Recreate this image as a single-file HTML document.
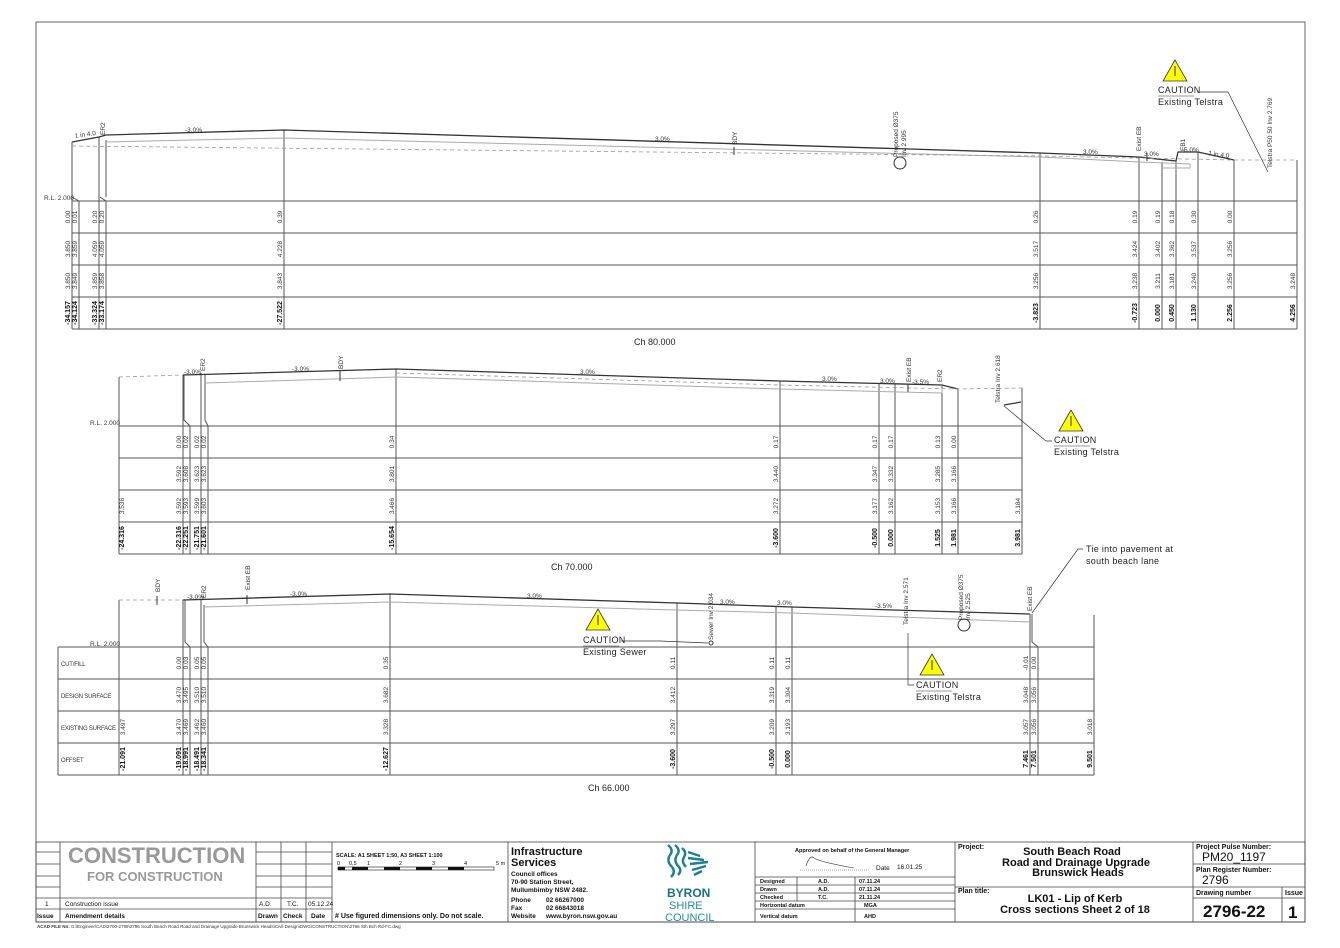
<!DOCTYPE html>
<html><head><meta charset="utf-8"><style>
html,body{margin:0;padding:0;background:#fff;}
svg{display:block;font-family:"Liberation Sans",sans-serif;}
.v{font-size:6.5px;fill:#333;text-anchor:middle;}
.b{font-size:7px;font-weight:bold;fill:#111;text-anchor:middle;}
.s{font-size:6.5px;fill:#333;}
.rl{font-size:6px;fill:#333;letter-spacing:-0.2px;}
.c{font-size:9px;fill:#222;letter-spacing:.3px;}
.t{font-size:6.5px;fill:#111;}
.tb{font-size:6.5px;fill:#111;font-weight:bold;}
</style></head><body>
<svg width="1340" height="948" viewBox="0 0 1340 948" xmlns="http://www.w3.org/2000/svg">
<rect x="36" y="22" width="1269" height="900" fill="none" stroke="#666" stroke-width="1"/>

<!-- ============ SECTION 1 Ch 80 ============ -->
<g stroke="#555" stroke-width="1" fill="none">
<line x1="72" y1="201" x2="1297" y2="201"/><line x1="72" y1="233" x2="1297" y2="233"/>
<line x1="72" y1="265" x2="1297" y2="265"/><line x1="72" y1="297" x2="1297" y2="297"/>
<line x1="72" y1="329" x2="1297" y2="329"/>
<polyline points="72,329 72,142"/>
<polyline points="72,197 79,201 79,329"/>
<polyline points="99,329 99,137"/>
<polyline points="100,197 106,201 106,329"/>
<line x1="106" y1="140" x2="106" y2="197"/>
<line x1="284" y1="130" x2="284" y2="329"/>
<line x1="1040" y1="153" x2="1040" y2="329"/>
<line x1="1139" y1="157" x2="1139" y2="329"/>
<line x1="1162" y1="162" x2="1162" y2="329"/>
<line x1="1176" y1="162" x2="1176" y2="329"/>
<line x1="1198" y1="152" x2="1198" y2="329"/>
<line x1="1234" y1="160" x2="1234" y2="329"/>
<line x1="1297" y1="160" x2="1297" y2="329"/>
</g>
<polyline points="72,142 99,137 106,135 284,130 1040,153 1139,157 1176,161 1178,152 1198,152 1234,160" fill="none" stroke="#333" stroke-width="1.3"/>
<polyline points="106,142 284,138 1040,157 1139,162 1190,164 1190,168 1162,168" fill="none" stroke="#aaa" stroke-width="1"/>
<polyline points="72,146 1040,156 1234,160 1297,160" fill="none" stroke="#999" stroke-width="0.8" stroke-dasharray="4,3"/>
<line x1="734" y1="147" x2="734" y2="155" stroke="#333"/>
<line x1="1147" y1="153" x2="1147" y2="161" stroke="#333"/>
<circle cx="900" cy="163" r="6" fill="none" stroke="#333"/>
<text class="s" x="75" y="138" transform="rotate(-8 75 138)">1 in 4.0</text>
<text class="s" x="185" y="132">-3.0%</text>
<text class="s" x="655" y="141">3.0%</text>
<text class="s" x="1083" y="154">3.0%</text>
<text class="s" x="1144" y="156">3.0%</text>
<text class="s" x="1184" y="152">5.0%</text>
<text class="s" x="1208" y="155" transform="rotate(8 1208 155)">1 in 4.0</text>
<text class="s" transform="translate(105,135) rotate(-90)">ER2</text>
<text class="s" transform="translate(737,145) rotate(-90)">BDY</text>
<text class="s" transform="translate(898,157) rotate(-90)">Proposed Ø375</text>
<text class="s" transform="translate(906,157) rotate(-90)">Inv 2.995</text>
<text class="s" transform="translate(1141,151) rotate(-90)">Exist EB</text>
<text class="s" transform="translate(1185,151) rotate(-90)">EB1</text>
<text class="s" transform="translate(1272,168) rotate(-90)">Telstra P50 50 Inv 2.769</text>
<text class="s" x="44" y="200">R.L. 2.000</text>
<g class="v">
<text transform="translate(70,217) rotate(-90)">0.00</text><text transform="translate(77,217) rotate(-90)">0.01</text>
<text transform="translate(97,217) rotate(-90)">0.20</text><text transform="translate(104,217) rotate(-90)">0.20</text>
<text transform="translate(282,217) rotate(-90)">0.39</text><text transform="translate(1038,217) rotate(-90)">0.26</text>
<text transform="translate(1137,217) rotate(-90)">0.19</text><text transform="translate(1160,217) rotate(-90)">0.19</text>
<text transform="translate(1174,217) rotate(-90)">0.18</text><text transform="translate(1196,217) rotate(-90)">0.30</text>
<text transform="translate(1232,217) rotate(-90)">0.00</text>
<text transform="translate(70,249) rotate(-90)">3.850</text><text transform="translate(77,249) rotate(-90)">3.859</text>
<text transform="translate(97,249) rotate(-90)">4.059</text><text transform="translate(104,249) rotate(-90)">4.059</text>
<text transform="translate(282,249) rotate(-90)">4.228</text><text transform="translate(1038,249) rotate(-90)">3.517</text>
<text transform="translate(1137,249) rotate(-90)">3.424</text><text transform="translate(1160,249) rotate(-90)">3.402</text>
<text transform="translate(1174,249) rotate(-90)">3.362</text><text transform="translate(1196,249) rotate(-90)">3.537</text>
<text transform="translate(1232,249) rotate(-90)">3.256</text>
<text transform="translate(70,281) rotate(-90)">3.850</text><text transform="translate(77,281) rotate(-90)">3.849</text>
<text transform="translate(97,281) rotate(-90)">3.859</text><text transform="translate(104,281) rotate(-90)">3.858</text>
<text transform="translate(282,281) rotate(-90)">3.843</text><text transform="translate(1038,281) rotate(-90)">3.256</text>
<text transform="translate(1137,281) rotate(-90)">3.238</text><text transform="translate(1160,281) rotate(-90)">3.211</text>
<text transform="translate(1174,281) rotate(-90)">3.181</text><text transform="translate(1196,281) rotate(-90)">3.240</text>
<text transform="translate(1232,281) rotate(-90)">3.256</text><text transform="translate(1295,281) rotate(-90)">3.248</text>
</g>
<g class="b">
<text transform="translate(70,313) rotate(-90)">-34.157</text><text transform="translate(77,313) rotate(-90)">-34.124</text>
<text transform="translate(97,313) rotate(-90)">-33.324</text><text transform="translate(104,313) rotate(-90)">-33.174</text>
<text transform="translate(282,313) rotate(-90)">-27.522</text><text transform="translate(1038,313) rotate(-90)">-3.823</text>
<text transform="translate(1137,313) rotate(-90)">-0.723</text><text transform="translate(1160,313) rotate(-90)">0.000</text>
<text transform="translate(1174,313) rotate(-90)">0.450</text><text transform="translate(1196,313) rotate(-90)">1.130</text>
<text transform="translate(1232,313) rotate(-90)">2.256</text><text transform="translate(1295,313) rotate(-90)">4.256</text>
</g>
<text x="634" y="345" style="font-size:9px;fill:#222">Ch 80.000</text>
<polygon points="1175,60 1163,81 1187,81" fill="#ff0" stroke="#333" stroke-width="0.8"/>
<line x1="1175" y1="66" x2="1175" y2="76" stroke="#333" stroke-width="1"/>
<text class="c" x="1158" y="93">CAUTION</text><line x1="1158" y1="96" x2="1194" y2="96" stroke="#333" stroke-width="0.6"/>
<text class="c" x="1158" y="105">Existing Telstra</text>
<polyline points="1197,92 1228,92 1268,172" fill="none" stroke="#333" stroke-width="0.7"/>

<!-- ============ SECTION 2 Ch 70 ============ -->
<g stroke="#555" stroke-width="1" fill="none">
<line x1="119" y1="426" x2="1022" y2="426"/><line x1="119" y1="458" x2="1022" y2="458"/>
<line x1="119" y1="490" x2="1022" y2="490"/><line x1="119" y1="522" x2="1022" y2="522"/>
<line x1="119" y1="554" x2="1022" y2="554"/>
<line x1="119" y1="377" x2="119" y2="554"/>
<line x1="183" y1="375" x2="183" y2="554"/>
<polyline points="184,375 184,420 190,426 190,554"/>
<line x1="201" y1="373" x2="201" y2="554"/>
<polyline points="205,374 205,420 208,426 208,554"/>
<line x1="396" y1="369" x2="396" y2="554"/>
<line x1="780" y1="381" x2="780" y2="554"/>
<line x1="879" y1="383" x2="879" y2="554"/>
<line x1="895" y1="384" x2="895" y2="554"/>
<line x1="942" y1="386" x2="942" y2="554"/>
<line x1="958" y1="389" x2="958" y2="554"/>
<line x1="1022" y1="388" x2="1022" y2="554"/>
</g>
<polyline points="183,375 396,369 780,381 942,385 958,389" fill="none" stroke="#333" stroke-width="1.3"/>
<polyline points="205,383 396,377 780,389 942,393 942,388" fill="none" stroke="#aaa" stroke-width="1"/>
<polyline points="119,377 183,375" fill="none" stroke="#999" stroke-width="0.8" stroke-dasharray="4,3"/>
<polyline points="396,373 780,385 958,389 1022,388" fill="none" stroke="#999" stroke-width="0.8" stroke-dasharray="4,3"/>
<line x1="340" y1="371" x2="340" y2="381" stroke="#333"/>
<line x1="908" y1="384" x2="908" y2="392" stroke="#333"/>
<line x1="1004" y1="405" x2="1021" y2="402" stroke="#333" stroke-width="1.2"/>
<text class="s" x="184" y="374">-3.0%</text>
<text class="s" x="292" y="371">-3.0%</text>
<text class="s" x="580" y="374">3.0%</text>
<text class="s" x="822" y="381">3.0%</text>
<text class="s" x="880" y="383">3.0%</text>
<text class="s" x="912" y="384">-3.5%</text>
<text class="s" transform="translate(205,371) rotate(-90)">ER2</text>
<text class="s" transform="translate(343,369) rotate(-90)">BDY</text>
<text class="s" transform="translate(911,382) rotate(-90)">Exist EB</text>
<text class="s" transform="translate(942,382) rotate(-90)">ER2</text>
<text class="s" transform="translate(1000,403) rotate(-90)">Telstra Inv 2.618</text>
<text class="s" x="90" y="425">R.L. 2.000</text>
<g class="v">
<text transform="translate(181,442) rotate(-90)">0.00</text><text transform="translate(188,442) rotate(-90)">0.02</text>
<text transform="translate(199,442) rotate(-90)">0.02</text><text transform="translate(206,442) rotate(-90)">0.02</text>
<text transform="translate(394,442) rotate(-90)">0.34</text><text transform="translate(778,442) rotate(-90)">0.17</text>
<text transform="translate(877,442) rotate(-90)">0.17</text><text transform="translate(893,442) rotate(-90)">0.17</text>
<text transform="translate(940,442) rotate(-90)">0.13</text><text transform="translate(956,442) rotate(-90)">0.00</text>
<text transform="translate(181,474) rotate(-90)">3.592</text><text transform="translate(188,474) rotate(-90)">3.608</text>
<text transform="translate(199,474) rotate(-90)">3.623</text><text transform="translate(206,474) rotate(-90)">3.623</text>
<text transform="translate(394,474) rotate(-90)">3.801</text><text transform="translate(778,474) rotate(-90)">3.440</text>
<text transform="translate(877,474) rotate(-90)">3.347</text><text transform="translate(893,474) rotate(-90)">3.332</text>
<text transform="translate(940,474) rotate(-90)">3.285</text><text transform="translate(956,474) rotate(-90)">3.166</text>
<text transform="translate(124,506) rotate(-90)">3.536</text>
<text transform="translate(181,506) rotate(-90)">3.592</text><text transform="translate(188,506) rotate(-90)">3.593</text>
<text transform="translate(199,506) rotate(-90)">3.599</text><text transform="translate(206,506) rotate(-90)">3.603</text>
<text transform="translate(394,506) rotate(-90)">3.466</text><text transform="translate(778,506) rotate(-90)">3.272</text>
<text transform="translate(877,506) rotate(-90)">3.177</text><text transform="translate(893,506) rotate(-90)">3.162</text>
<text transform="translate(940,506) rotate(-90)">3.153</text><text transform="translate(956,506) rotate(-90)">3.166</text>
<text transform="translate(1020,506) rotate(-90)">3.184</text>
</g>
<g class="b">
<text transform="translate(124,538) rotate(-90)">-24.316</text>
<text transform="translate(181,538) rotate(-90)">-22.316</text><text transform="translate(188,538) rotate(-90)">-22.251</text>
<text transform="translate(199,538) rotate(-90)">-21.751</text><text transform="translate(206,538) rotate(-90)">-21.601</text>
<text transform="translate(394,538) rotate(-90)">-15.654</text><text transform="translate(778,538) rotate(-90)">-3.600</text>
<text transform="translate(877,538) rotate(-90)">-0.500</text><text transform="translate(893,538) rotate(-90)">0.000</text>
<text transform="translate(940,538) rotate(-90)">1.525</text><text transform="translate(956,538) rotate(-90)">1.981</text>
<text transform="translate(1020,538) rotate(-90)">3.981</text>
</g>
<text x="551" y="570" style="font-size:9px;fill:#222">Ch 70.000</text>
<polygon points="1071,410 1059,431 1083,431" fill="#ff0" stroke="#333" stroke-width="0.8"/>
<line x1="1071" y1="416" x2="1071" y2="426" stroke="#333"/>
<text class="c" x="1054" y="443">CAUTION</text><line x1="1054" y1="446" x2="1090" y2="446" stroke="#333" stroke-width="0.6"/>
<text class="c" x="1054" y="455">Existing Telstra</text>
<polyline points="1052,441 1046,441 1004,406" fill="none" stroke="#333" stroke-width="0.7"/>

<!-- ============ SECTION 3 Ch 66 ============ -->
<g stroke="#555" stroke-width="1" fill="none">
<line x1="58" y1="647" x2="1094" y2="647"/><line x1="58" y1="679" x2="1094" y2="679"/>
<line x1="58" y1="711" x2="1094" y2="711"/><line x1="58" y1="743" x2="1094" y2="743"/>
<line x1="58" y1="775" x2="1094" y2="775"/>
<line x1="58" y1="647" x2="58" y2="775"/>
<line x1="119" y1="600" x2="119" y2="775"/>
<line x1="183" y1="600" x2="183" y2="775"/>
<polyline points="185,600 185,642 190,647 190,775"/>
<line x1="201" y1="599" x2="201" y2="775"/>
<polyline points="204,605 204,642 208,647 208,775"/>
<line x1="390" y1="594" x2="390" y2="775"/>
<line x1="677" y1="603" x2="677" y2="775"/>
<line x1="776" y1="606" x2="776" y2="775"/>
<line x1="792" y1="607" x2="792" y2="775"/>
<polyline points="1030,614 1030,647 1030,775"/>
<polyline points="1032,614 1032,642 1038,647 1038,775"/>
<line x1="1094" y1="615" x2="1094" y2="775"/>
</g>
<polyline points="183,600 390,594 677,603 792,607 1030,614" fill="none" stroke="#333" stroke-width="1.3"/>
<polyline points="204,607 390,602 677,610 792,613 1030,622" fill="none" stroke="#aaa" stroke-width="1"/>
<polyline points="119,600 183,600 M204,601 390,596 677,605 1030,614 1094,615" fill="none" stroke="#999" stroke-width="0.8" stroke-dasharray="4,3"/>
<line x1="157" y1="596" x2="157" y2="605" stroke="#333"/>
<line x1="247" y1="595" x2="247" y2="604" stroke="#333"/>
<circle cx="964" cy="625" r="6" fill="none" stroke="#333"/>
<circle cx="711" cy="643" r="2" fill="none" stroke="#333"/>
<text class="s" x="187" y="599">-3.0%</text>
<text class="s" x="290" y="596">-3.0%</text>
<text class="s" x="527" y="598">3.0%</text>
<text class="s" x="720" y="604">3.0%</text>
<text class="s" x="777" y="605">3.0%</text>
<text class="s" x="875" y="608">-3.5%</text>
<text class="s" transform="translate(160,592) rotate(-90)">BDY</text>
<text class="s" transform="translate(206,598) rotate(-90)">ER2</text>
<text class="s" transform="translate(250,590) rotate(-90)">Exist EB</text>
<text class="s" transform="translate(713,640) rotate(-90)">Sewer Inv 2.034</text>
<text class="s" transform="translate(908,625) rotate(-90)">Telstra Inv 2.571</text>
<text class="s" transform="translate(963,620) rotate(-90)">Proposed Ø375</text>
<text class="s" transform="translate(970,620) rotate(-90)">Inv 2.525</text>
<text class="s" transform="translate(1032,611) rotate(-90)">Exist EB</text>
<text class="s" x="90" y="646">R.L. 2.000</text>
<text class="rl" x="61" y="666">CUT/FILL</text>
<text class="rl" x="61" y="698">DESIGN SURFACE</text>
<text class="rl" x="61" y="730">EXISTING SURFACE</text>
<text class="rl" x="61" y="762">OFFSET</text>
<g class="v">
<text transform="translate(181,663) rotate(-90)">0.00</text><text transform="translate(188,663) rotate(-90)">0.03</text>
<text transform="translate(199,663) rotate(-90)">0.05</text><text transform="translate(206,663) rotate(-90)">0.05</text>
<text transform="translate(388,663) rotate(-90)">0.35</text><text transform="translate(675,663) rotate(-90)">0.11</text>
<text transform="translate(774,663) rotate(-90)">0.11</text><text transform="translate(790,663) rotate(-90)">0.11</text>
<text transform="translate(1028,663) rotate(-90)">-0.01</text><text transform="translate(1036,663) rotate(-90)">0.00</text>
<text transform="translate(181,695) rotate(-90)">3.470</text><text transform="translate(188,695) rotate(-90)">3.495</text>
<text transform="translate(199,695) rotate(-90)">3.510</text><text transform="translate(206,695) rotate(-90)">3.510</text>
<text transform="translate(388,695) rotate(-90)">3.682</text><text transform="translate(675,695) rotate(-90)">3.412</text>
<text transform="translate(774,695) rotate(-90)">3.319</text><text transform="translate(790,695) rotate(-90)">3.304</text>
<text transform="translate(1028,695) rotate(-90)">3.048</text><text transform="translate(1036,695) rotate(-90)">3.056</text>
<text transform="translate(125,727) rotate(-90)">3.497</text>
<text transform="translate(181,727) rotate(-90)">3.470</text><text transform="translate(188,727) rotate(-90)">3.469</text>
<text transform="translate(199,727) rotate(-90)">3.462</text><text transform="translate(206,727) rotate(-90)">3.460</text>
<text transform="translate(388,727) rotate(-90)">3.328</text><text transform="translate(675,727) rotate(-90)">3.297</text>
<text transform="translate(774,727) rotate(-90)">3.209</text><text transform="translate(790,727) rotate(-90)">3.193</text>
<text transform="translate(1028,727) rotate(-90)">3.057</text><text transform="translate(1036,727) rotate(-90)">3.056</text>
<text transform="translate(1092,727) rotate(-90)">3.018</text>
</g>
<g class="b">
<text transform="translate(125,759) rotate(-90)">-21.091</text>
<text transform="translate(181,759) rotate(-90)">-19.091</text><text transform="translate(188,759) rotate(-90)">-18.991</text>
<text transform="translate(199,759) rotate(-90)">-18.491</text><text transform="translate(206,759) rotate(-90)">-18.341</text>
<text transform="translate(388,759) rotate(-90)">-12.627</text><text transform="translate(675,759) rotate(-90)">-3.600</text>
<text transform="translate(774,759) rotate(-90)">-0.500</text><text transform="translate(790,759) rotate(-90)">0.000</text>
<text transform="translate(1028,759) rotate(-90)">7.461</text><text transform="translate(1036,759) rotate(-90)">7.501</text>
<text transform="translate(1092,759) rotate(-90)">9.501</text>
</g>
<text x="588" y="791" style="font-size:9px;fill:#222">Ch 66.000</text>
<polygon points="598,609 586,630 610,630" fill="#ff0" stroke="#333" stroke-width="0.8"/>
<line x1="598" y1="615" x2="598" y2="625" stroke="#333"/>
<text class="c" x="583" y="643">CAUTION</text><line x1="583" y1="646" x2="619" y2="646" stroke="#333" stroke-width="0.6"/>
<text class="c" x="583" y="655">Existing Sewer</text>
<polyline points="621,641 660,641 708,643" fill="none" stroke="#333" stroke-width="0.7"/>
<polygon points="932,654 920,675 944,675" fill="#ff0" stroke="#333" stroke-width="0.8"/>
<line x1="932" y1="660" x2="932" y2="670" stroke="#333"/>
<text class="c" x="916" y="688">CAUTION</text><line x1="916" y1="691" x2="952" y2="691" stroke="#333" stroke-width="0.6"/>
<text class="c" x="916" y="700">Existing Telstra</text>
<polyline points="914,685 908,685 908,633" fill="none" stroke="#333" stroke-width="0.7"/>
<text class="c" x="1086" y="552">Tie into pavement at</text>
<text class="c" x="1086" y="564">south beach lane</text>
<polyline points="1083,549 1078,549 1032,613" fill="none" stroke="#333" stroke-width="0.7"/>

<!-- ============ TITLE BLOCK ============ -->
<g stroke="#444" stroke-width="0.8" fill="none">
<rect x="36" y="842" width="1269" height="80"/>
<line x1="36" y1="852" x2="60" y2="852"/><line x1="36" y1="864" x2="60" y2="864"/>
<line x1="36" y1="876" x2="60" y2="876"/><line x1="36" y1="887" x2="60" y2="887"/>
<line x1="36" y1="898" x2="332" y2="898"/><line x1="36" y1="909" x2="332" y2="909"/>
<line x1="60" y1="842" x2="60" y2="922"/>
<line x1="256" y1="852" x2="332" y2="852"/><line x1="256" y1="864" x2="332" y2="864"/>
<line x1="256" y1="876" x2="332" y2="876"/><line x1="256" y1="887" x2="332" y2="887"/>
<line x1="256" y1="842" x2="256" y2="922"/><line x1="281" y1="842" x2="281" y2="922"/>
<line x1="306" y1="842" x2="306" y2="922"/><line x1="332" y1="842" x2="332" y2="922"/>
<line x1="508" y1="842" x2="508" y2="922"/>
<line x1="755" y1="842" x2="755" y2="922"/>
<line x1="755" y1="877" x2="955" y2="877"/><line x1="755" y1="885" x2="955" y2="885"/>
<line x1="755" y1="893" x2="955" y2="893"/><line x1="755" y1="901" x2="955" y2="901"/>
<line x1="755" y1="909" x2="955" y2="909"/>
<line x1="797" y1="877" x2="797" y2="901"/><line x1="855" y1="877" x2="855" y2="922"/>
<line x1="955" y1="842" x2="955" y2="922"/>
<line x1="955" y1="887" x2="1193" y2="887"/>
<line x1="1193" y1="842" x2="1193" y2="922"/>
<line x1="1193" y1="864" x2="1305" y2="864"/><line x1="1193" y1="887" x2="1305" y2="887"/>
<line x1="1193" y1="898" x2="1305" y2="898"/>
<line x1="1282" y1="887" x2="1282" y2="922"/>
</g>
<text x="68" y="863" style="font-size:22px;font-weight:bold;fill:#999">CONSTRUCTION</text>
<text x="87" y="881" style="font-size:13px;font-weight:bold;fill:#999">FOR CONSTRUCTION</text>
<text class="t" x="45" y="906">1</text>
<text class="t" x="65" y="906">Construction issue</text>
<text class="t" x="259" y="906">A.D.</text><text class="t" x="287" y="906">T.C.</text><text class="t" x="308" y="906">05.12.24</text>
<text class="tb" x="37" y="918">Issue</text><text class="tb" x="65" y="918">Amendment details</text>
<text class="tb" x="258" y="918">Drawn</text><text class="tb" x="283" y="918">Check</text><text class="tb" x="311" y="918">Date</text>
<text class="tb" x="335" y="918" style="font-size:7px">#  Use figured dimensions only. Do not scale.</text>
<text class="tb" x="336" y="857" style="font-size:5.5px">SCALE: A1 SHEET 1:50, A3 SHEET 1:100</text>
<g style="font-size:5.5px;fill:#111"><text x="337" y="865">0</text><text x="349" y="865">0.5</text><text x="367" y="865">1</text><text x="399" y="865">2</text><text x="432" y="865">3</text><text x="464" y="865">4</text><text x="496" y="865">5 m</text></g>
<rect x="338" y="867" width="156" height="3" fill="#fff" stroke="#111" stroke-width="0.6"/>
<g fill="#111"><rect x="338" y="867" width="7" height="3"/><rect x="352" y="867" width="16" height="3"/><rect x="384" y="867" width="16" height="3"/><rect x="416" y="867" width="16" height="3"/><rect x="448" y="867" width="16" height="3"/></g>
<text x="511" y="855" style="font-size:11px;font-weight:bold;fill:#111">Infrastructure</text>
<text x="511" y="866" style="font-size:11px;font-weight:bold;fill:#111">Services</text>
<text class="tb" x="511" y="876">Council offices</text>
<text class="tb" x="511" y="884">70-90 Station Street,</text>
<text class="tb" x="511" y="892">Mullumbimby  NSW 2482.</text>
<text class="tb" x="511" y="902">Phone</text><text class="tb" x="546" y="902">02 66267000</text>
<text class="tb" x="511" y="910">Fax</text><text class="tb" x="546" y="910">02 66843018</text>
<text class="tb" x="511" y="918">Website</text><text class="tb" x="546" y="918">www.byron.nsw.gov.au</text>
<g fill="none" stroke="#1f7f8c" stroke-width="2.4">
<path d="M668,845 q6,5 2,10 q-4,6 2,12 q4,5 -1,10"/>
<path d="M675,845 q6,5 2,10 q-4,6 2,12 q3,4 -1,8"/>
<path d="M682,848 q5,4 2,9 q-3,5 2,10"/>
<path d="M688,852 l12,4 M688,858 l16,2 M690,864 l18,-2 M692,870 l14,-4 M694,875 l8,-4"/>
</g>
<text x="667" y="897" style="font-size:12px;font-weight:bold;fill:#1a6f80">BYRON</text>
<text x="669" y="909" style="font-size:11px;fill:#2a8a98">SHIRE</text>
<text x="665" y="921" style="font-size:11px;fill:#2a8a98">COUNCIL</text>
<text class="tb" x="795" y="852" style="font-size:5.5px">Approved on behalf of the General Manager</text>
<path d="M806,866 q4,-12 8,-8 q6,4 40,10" fill="none" stroke="#333" stroke-width="0.6"/>
<line x1="800" y1="870" x2="870" y2="870" stroke="#555" stroke-width="0.5" stroke-dasharray="1,1"/>
<text class="t" x="876" y="870">Date</text><text class="t" x="897" y="869">16.01.25</text>
<g class="tb" style="font-size:5.5px">
<text x="760" y="883">Designed</text><text x="818" y="883">A.D.</text><text x="859" y="883">07.11.24</text>
<text x="760" y="891">Drawn</text><text x="818" y="891">A.D.</text><text x="859" y="891">07.11.24</text>
<text x="760" y="899">Checked</text><text x="818" y="899">T.C.</text><text x="859" y="899">21.11.24</text>
<text x="760" y="907">Horizontal datum</text><text x="864" y="907">MGA</text>
<text x="760" y="918">Vertical datum</text><text x="864" y="918">AHD</text>
</g>
<text class="tb" x="958" y="849" style="font-size:7px">Project:</text>
<g style="font-size:11px;font-weight:bold;fill:#111;text-anchor:middle">
<text x="1072" y="855">South Beach Road</text>
<text x="1076" y="866">Road and Drainage Upgrade</text>
<text x="1078" y="876">Brunswick Heads</text>
<text x="1075" y="902">LK01 - Lip of Kerb</text>
<text x="1075" y="913">Cross sections Sheet 2 of 18</text>
</g>
<text class="tb" x="958" y="893" style="font-size:7px">Plan title:</text>
<text class="tb" x="1196" y="849" style="font-size:7px">Project Pulse Number:</text>
<text x="1202" y="861" style="font-size:12px;fill:#111">PM20_1197</text>
<text class="tb" x="1196" y="872" style="font-size:7px">Plan Register Number:</text>
<text x="1202" y="884" style="font-size:12px;fill:#111">2796</text>
<text class="tb" x="1196" y="895" style="font-size:7px">Drawing number</text>
<text class="tb" x="1285" y="895" style="font-size:7px">Issue</text>
<text x="1203" y="917" style="font-size:17px;font-weight:bold;fill:#111">2796-22</text>
<text x="1288" y="918" style="font-size:17px;font-weight:bold;fill:#111">1</text>
<text x="37" y="928" style="font-size:4.5px;fill:#333"><tspan font-weight="bold">ACAD FILE No:</tspan>  G:\Engineer\CAD\2700-2799\2796  South Beach Road  Road and Drainage Upgrade  Brunswick Heads\Civil Design\DWG\CONSTRUCTION\2796  Sth Bch Rd-FC.dwg</text>
</svg>
</body></html>
